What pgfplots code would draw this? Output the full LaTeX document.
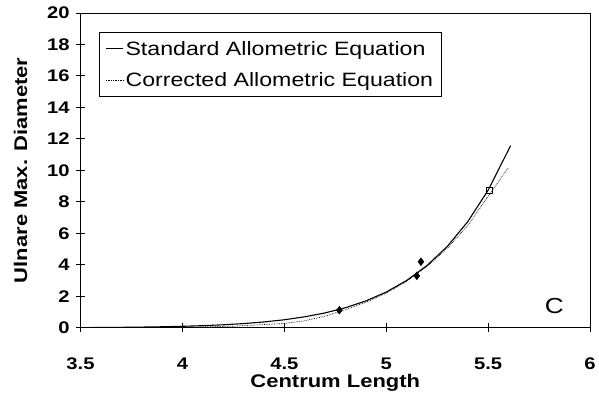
\documentclass[border=0pt]{standalone}
\usepackage{fontspec}
\setmainfont{Liberation Sans}[FakeStretch=1.2]
\usepackage{pgfplots}
\pgfplotsset{compat=1.18}
\begin{document}
\begin{tikzpicture}
\begin{axis}[
  scale only axis,
  width=513bp, height=317bp,
  xmin=3.5, xmax=6, ymin=0, ymax=20,
  xtick={3.5,4,4.5,5,5.5,6},
  xticklabels={3.5,4,4.5,5,5.5,6},
  ytick={0,2,...,20},
  tick align=center,
  major tick length=9bp,
  xtick pos=bottom, ytick pos=left,
  tick style={black, line width=0.8bp},
  axis line style={black, line width=0.8bp},
  /pgf/number format/assume math mode=true,
  ticklabel style={font=\fontsize{17}{20}\selectfont\bfseries},
  xticklabel style={yshift=-22bp},
  yticklabel style={xshift=-3bp},
  xlabel={\fontsize{18.5}{22}\selectfont\bfseries Centrum Length},
  ylabel={\fontsize{18.5}{22}\selectfont\bfseries Ulnare Max. Diameter},
  xlabel style={yshift=2bp},
  ylabel style={yshift=13bp},
  legend style={
    at={(0.037,0.94)}, anchor=north west,
    draw=black, line width=0.6bp,
    font=\fontsize{19.5}{23}\selectfont,
    row sep=12bp, inner xsep=6bp, inner ysep=7bp,
    cells={anchor=west},
  },
  legend image code/.code={\draw[#1] (0bp,0bp) -- (17bp,0bp);},
]
\addplot[black, line width=1.1bp, no markers] coordinates {
(3.5,0.0147) (3.6,0.0218) (3.7,0.0322) (3.8,0.0469) (3.9,0.0676)
(4.0,0.097) (4.1,0.137) (4.2,0.193) (4.3,0.269) (4.4,0.373)
(4.5,0.512) (4.6,0.699) (4.7,0.947) (4.8,1.276) (4.9,1.708)
(5.0,2.272) (5.1,3.006) (5.2,3.956) (5.3,5.178) (5.4,6.745)
(5.5,8.743) (5.61,11.57)
};
\addlegendentry{Standard Allometric Equation}
\addplot[black, line width=0.7bp, densely dotted, no markers] coordinates {
(3.5,0.005) (3.75,0.015) (4.0,0.04) (4.25,0.1) (4.5,0.28)
(4.6,0.45) (4.7,0.74) (4.8,1.15) (4.9,1.62) (5.0,2.2)
(5.1,2.95) (5.2,3.9) (5.3,5.05) (5.4,6.5) (5.5,8.35) (5.6,10.2)
};
\addlegendentry{Corrected Allometric Equation}
\addplot[only marks, mark=diamond*, mark size=4bp, black, forget plot] coordinates {
(4.77,1.12) (5.15,3.3) (5.17,4.2)
};
\addplot[only marks, mark=square, mark size=3bp, black, line width=0.9bp, forget plot] coordinates {
(5.506,8.73)
};
\node[font=\fontsize{22}{25}\selectfont] at (axis cs:5.825,1.39) {C};
\end{axis}
\path (current axis.south west) ++(-81bp,-72bp) rectangle ++(599bp,402bp);
\end{tikzpicture}
\end{document}
